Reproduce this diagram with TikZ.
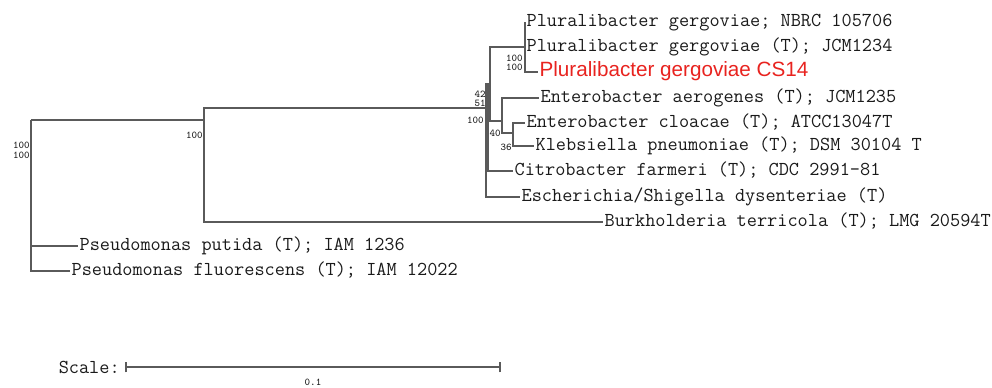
\documentclass[tikz,border=0pt]{standalone}
\usepackage{fontspec}
\newfontfamily\redsans{Liberation Sans}
\definecolor{linegray}{HTML}{5A5A5A}
\definecolor{txt}{HTML}{1A1A1A}
\definecolor{redlab}{HTML}{E8231F}
\newcommand{\leaffont}{\ttfamily\fontsize{14.8}{16}\selectfont}
\newcommand{\bootfont}{\ttfamily\fontsize{7.8}{9}\selectfont}
\begin{document}
\begin{tikzpicture}[x=0.75pt,y=-0.75pt,
  br/.style={draw=linegray,line width=1.1pt},
  leaf/.style={anchor=west,inner sep=1pt,font=\leaffont,text=txt,text height=9pt,text depth=3pt},
  boot/.style={anchor=east,inner sep=0pt,font=\bootfont,text=txt}]
\useasboundingbox (0,0) rectangle (992,387);
% internal nodes
\coordinate (R) at (31,120);
\coordinate (N1) at (204,120);
\coordinate (N2) at (486,108);
\coordinate (N3) at (488,84);
\coordinate (N4) at (490,84);
\coordinate (N5) at (525,47);
\coordinate (N6) at (502,121);
\coordinate (N7) at (513,133);
% leaves
\node[leaf] (L1) at (525,22) {Pluralibacter gergoviae; NBRC 105706};
\node[leaf] (L2) at (525,47) {Pluralibacter gergoviae (T); JCM1234};
\node[leaf,font=\redsans\fontsize{15.5}{17}\selectfont,text=redlab] (L3) at (538,72) {Pluralibacter gergoviae CS14};
\node[leaf] (L4) at (539,98) {Enterobacter aerogenes (T); JCM1235};
\node[leaf] (L5) at (525,123) {Enterobacter cloacae (T); ATCC13047T};
\node[leaf] (L6) at (534,146) {Klebsiella pneumoniae (T); DSM 30104 T};
\node[leaf] (L7) at (513,171) {Citrobacter farmeri (T); CDC 2991-81};
\node[leaf] (L8) at (520,197) {Escherichia/Shigella dysenteriae (T)};
\node[leaf] (L9) at (603,222) {Burkholderia terricola (T); LMG 20594T};
\node[leaf] (L10) at (78,246) {Pseudomonas putida (T); IAM 1236};
\node[leaf] (L11) at (70,271) {Pseudomonas fluorescens (T); IAM 12022};
% branches
\draw[br] (R) |- (N1);
\draw[br] (R) |- (L10.west);
\draw[br] (R) |- (L11.west);
\draw[br] (N1) |- (N2);
\draw[br] (N1) |- (L9.west);
\draw[br] (N2) |- (N3);
\draw[br] (N2) |- (L8.west);
\draw[br] (N3) |- (N4);
\draw[br] (N3) |- (L7.west);
\draw[br] (N4) |- (N5);
\draw[br] (N4) |- (N6);
\draw[br] (N5) |- (L1.west);
\draw[br] (N5) |- (L2.west);
\draw[br] (N5) |- (L3.west);
\draw[br] (N6) |- (L4.west);
\draw[br] (N6) |- (N7);
\draw[br] (N7) |- (L5.west);
\draw[br] (N7) |- (L6.west);
% bootstrap values
\node[boot] (b1) at (30,145) {100};
\node[boot] (b2) at (30,155) {100};
\node[boot] (b3) at (203,135) {100};
\node[boot] (b4) at (523,58) {100};
\node[boot] (b5) at (523,67) {100};
\node[boot] (b6) at (486,94) {42};
\node[boot] (b7) at (486,103) {51};
\node[boot] (b8) at (484,120) {100};
\node[boot] (b9) at (501,133) {40};
\node[boot] (b10) at (512,147) {36};
% scale bar
\coordinate (s1) at (126,367);
\coordinate (s2) at (500,367);
\node[anchor=east,inner sep=0pt,font=\leaffont,text=txt] (sc) at (120,367) {Scale:};
\draw[br,line width=0.9pt] (s1) -- (s2);
\draw[br,line width=0.9pt] ([yshift=-4pt]s1) -- ([yshift=4pt]s1);
\draw[br,line width=0.9pt] ([yshift=-4pt]s2) -- ([yshift=4pt]s2);
\node[inner sep=0pt,font=\bootfont,text=txt] (sl) at (313,382) {0.1};
\end{tikzpicture}
\end{document}
